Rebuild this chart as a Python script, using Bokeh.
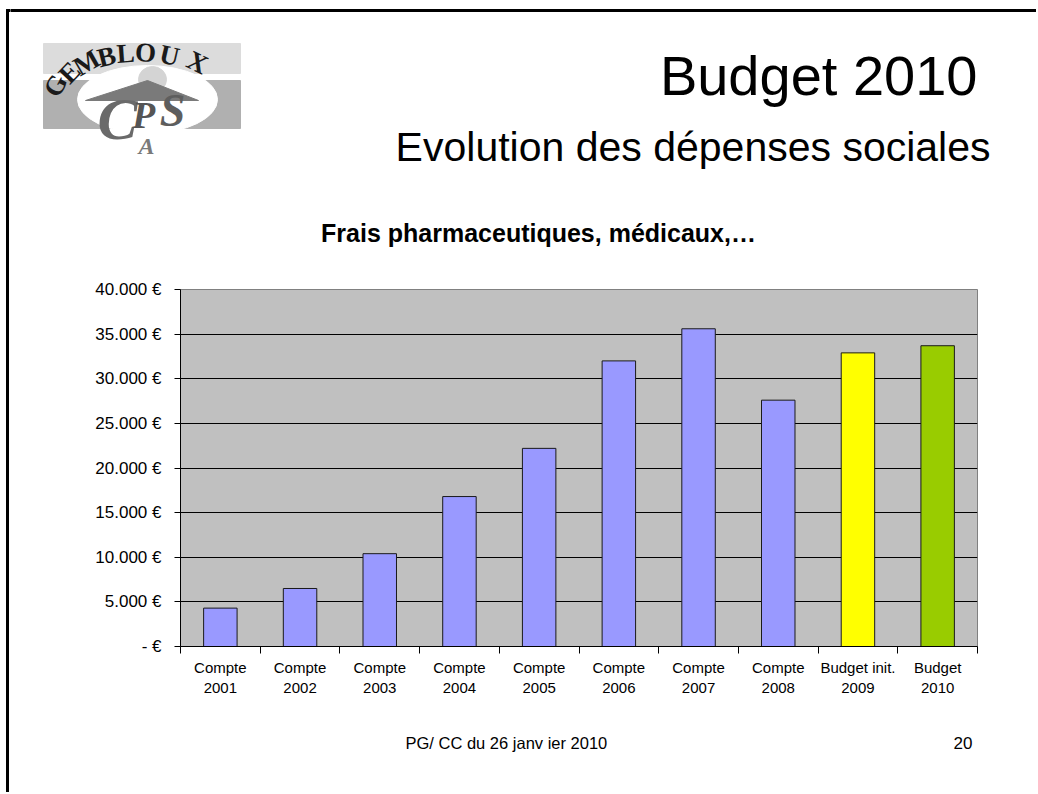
import numpy as np
from bokeh.plotting import figure
from bokeh.layouts import row, column
from bokeh.models import Range1d, FixedTicker, ColumnDataSource, Label
from bokeh.embed import file_html
from bokeh.resources import INLINE

# ---------------- data ----------------
categories = ["Compte 2001", "Compte 2002", "Compte 2003", "Compte 2004", "Compte 2005",
              "Compte 2006", "Compte 2007", "Compte 2008", "Budget init. 2009", "Budget 2010"]
values = [4300, 6500, 10400, 16800, 22200, 32000, 35600, 27600, 32900, 33700]
bar_colors = ["#9999FF"] * 8 + ["#FFFF00", "#99CC00"]
y_ticks = [0, 5000, 10000, 15000, 20000, 25000, 30000, 35000, 40000]
y_tick_labels = ["- €", "5.000 €", "10.000 €", "15.000 €", "20.000 €",
                 "25.000 €", "30.000 €", "35.000 €", "40.000 €"]

title_text = "Budget 2010"
subtitle_text = "Evolution des dépenses sociales"
chart_title = "Frais pharmaceutiques, médicaux,…"
footer_text = "PG/ CC du 26 janv ier 2010"
page_number = "20"

FONT = "Liberation Sans"

# ---------------- page geometry (page pixels) ----------------
STRIP_W = 10
COL_W = 1026
TOTAL_H = 792
HEAD_H = 270
CHART_H = 430
FOOT_H = TOTAL_H - HEAD_H - CHART_H


def deco_fig(w, h, x0):
    f = figure(width=w, height=h, output_backend="svg", toolbar_location=None,
               x_range=Range1d(x0, x0 + w), y_range=Range1d(0, h),
               x_axis_location=None, y_axis_location=None, min_border=0,
               frame_align=False)
    f.grid.visible = False
    f.outline_line_color = None
    f.background_fill_color = "white"
    f.border_fill_color = "white"
    return f


def text_label(x, baseline_y, txt, size, align, bold=False):
    # centre the text vertically on its cap height so that its baseline falls on baseline_y
    return Label(x=x, y=baseline_y + 0.35 * size, text=txt, text_align=align,
                 text_baseline="middle", text_font=FONT, text_font_size=f"{size}px",
                 text_font_style="bold" if bold else "normal", text_color="black")


# ---------------- left strip (slide border) ----------------
strip = deco_fig(STRIP_W, TOTAL_H, 0)
strip.quad(left=[6], right=[8], top=[TOTAL_H - 9], bottom=[0], color="black")
strip.quad(left=[6], right=[STRIP_W], top=[TOTAL_H - 9], bottom=[TOTAL_H - 11], color="black")

# ---------------- header ----------------
head = deco_fig(COL_W, HEAD_H, STRIP_W)


def hy(py):
    return HEAD_H - py


head.quad(left=[STRIP_W], right=[STRIP_W + COL_W], top=[hy(9)], bottom=[hy(11)], color="black")

# logo (decoration)
head.quad(left=[43], right=[240], top=[hy(43)], bottom=[hy(73)], color="#dcdcdc")
head.quad(left=[43], right=[240], top=[hy(80)], bottom=[hy(128)], color="#b0b0b0")
head.ellipse(x=[147], y=[hy(99)], width=140, height=68, color="white")
head.ellipse(x=[152], y=[hy(79)], width=28, height=26, color="#d4d4d4")
head.patch(x=[147, 85, 198], y=[hy(80), hy(100), hy(100)], color="#7a7a7a")
for ch, (lx, ly, ang) in zip("GEMBLOUX", [(55, 85, 62), (69, 72, 46), (86, 62, 30), (106, 56, 14),
                                          (125, 53, 4), (145, 52, -4), (169, 55, -13),
                                          (197, 62, -26)]):
    head.add_layout(Label(x=lx, y=hy(ly), text=ch, angle=ang, angle_units="deg",
                          text_align="center", text_baseline="middle",
                          text_font="Liberation Serif", text_font_style="bold",
                          text_font_size="27px", text_color="#1a1a1a"))
for ch, lx, ly, size, col in [("C", 117, 118, "60px", "#6a6a6a"), ("P", 143, 114, "38px", "#555555"),
                              ("S", 172, 110, "46px", "#5e5e5e"), ("A", 146, 145, "24px", "#7a7a7a")]:
    head.add_layout(Label(x=lx, y=hy(ly), text=ch, text_align="center", text_baseline="middle",
                          text_font="Liberation Serif", text_font_style="bold italic",
                          text_font_size=size, text_color=col))

head.add_layout(text_label(977, hy(95), title_text, 56, "right"))
head.add_layout(text_label(990, hy(161), subtitle_text, 41, "right"))
head.add_layout(text_label(538, hy(241), chart_title, 25, "center", bold=True))

# ---------------- chart ----------------
positions = list(range(len(categories)))
two_line = [c.rsplit(" ", 1)[0] + "\n" + c.rsplit(" ", 1)[1] for c in categories]
src = ColumnDataSource(dict(x=positions, top=values, color=bar_colors))

FRAME_L, FRAME_R, FRAME_T, FRAME_B = 180, 977, 289, 646
p = figure(width=COL_W, height=CHART_H, output_backend="svg", toolbar_location=None,
           x_range=Range1d(-0.5, len(categories) - 0.5), y_range=Range1d(0, 40000),
           min_border_left=FRAME_L - STRIP_W, min_border_right=STRIP_W + COL_W - FRAME_R,
           min_border_top=FRAME_T - HEAD_H, min_border_bottom=HEAD_H + CHART_H - FRAME_B,
           frame_align=False)
p.background_fill_color = "#C0C0C0"
p.border_fill_color = "white"
p.outline_line_color = "#808080"
p.outline_line_width = 1

p.vbar(x="x", top="top", width=0.42, fill_color="color", line_color="#1a1a1a",
       line_width=1, source=src)

yt = FixedTicker(ticks=y_ticks)
p.yaxis.ticker = yt
p.yaxis.major_label_overrides = dict(zip(y_ticks, y_tick_labels))
p.yaxis.major_tick_in = 0
p.yaxis.major_tick_out = 6
p.yaxis.minor_tick_line_color = None
p.yaxis.axis_line_color = "black"
p.yaxis.major_tick_line_color = "black"
p.yaxis.major_label_text_font = FONT
p.yaxis.major_label_text_font_size = "17px"
p.yaxis.major_label_text_color = "black"
p.yaxis.major_label_standoff = 13
p.ygrid.ticker = yt
p.ygrid.grid_line_color = "black"
p.xgrid.grid_line_color = None

p.xaxis.ticker = FixedTicker(ticks=positions,
                             minor_ticks=[i - 0.5 for i in range(len(categories) + 1)])
p.xaxis.major_label_overrides = dict(zip(positions, two_line))
p.xaxis.major_tick_line_color = None
p.xaxis.major_tick_in = 0
p.xaxis.major_tick_out = 7
p.xaxis.minor_tick_in = 0
p.xaxis.minor_tick_out = 7
p.xaxis.minor_tick_line_color = "black"
p.xaxis.axis_line_color = "black"
p.xaxis.major_label_text_font = FONT
p.xaxis.major_label_text_font_size = "15px"
p.xaxis.major_label_text_color = "black"
p.xaxis.major_label_standoff = 5

# ---------------- footer ----------------
foot = deco_fig(COL_W, FOOT_H, STRIP_W)


def fy(py):
    return TOTAL_H - py


foot.add_layout(text_label(405, fy(748), footer_text, 16.5, "left"))
foot.add_layout(text_label(972, fy(748), page_number, 17, "right"))

layout = row(strip, column(head, p, foot))
open("out.html", "w").write(file_html(layout, INLINE))
